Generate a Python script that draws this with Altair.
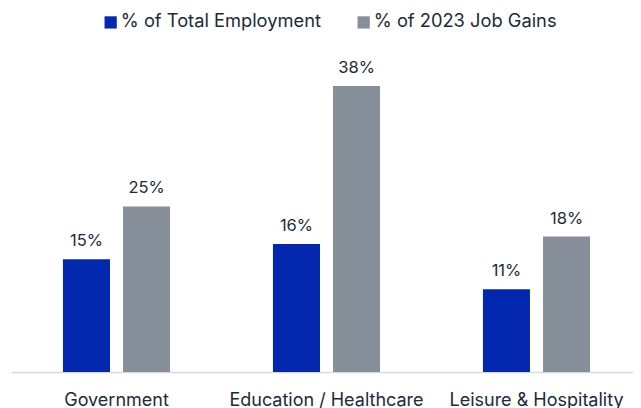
import altair as alt
import pandas as pd

categories = ["Government", "Education / Healthcare", "Leisure & Hospitality"]
series = ["% of Total Employment", "% of 2023 Job Gains"]
total_employment = [15, 17, 11]
job_gains = [22, 38, 18]
total_labels = ["15%", "16%", "11%"]
gains_labels = ["25%", "38%", "18%"]
colors = ["#0327ae", "#87909a"]

rows = []
for i, c in enumerate(categories):
    rows.append({"cat": c, "series": series[0], "value": total_employment[i], "label": total_labels[i]})
    rows.append({"cat": c, "series": series[1], "value": job_gains[i], "label": gains_labels[i]})
df = pd.DataFrame(rows)

FONT = "Inter"
TXT = "#1c2b3a"

x = alt.X("cat:N", sort=categories, title=None,
          scale=alt.Scale(paddingInner=0.49, paddingOuter=0.2248, align=0.545),
          axis=alt.Axis(labelFontSize=18, labelFont=FONT, labelColor=TXT, labelPadding=19.5,
                        labelLimit=400, ticks=False, domainColor="#d9d9d9", domainWidth=1.5,
                        labelAngle=0))
xo = alt.XOffset("series:N", sort=series, scale=alt.Scale(paddingInner=0.217, paddingOuter=0))
y = alt.Y("value:Q", scale=alt.Scale(domain=[0, 40]), axis=None)

bars = alt.Chart(df).mark_bar().encode(
    x=x, xOffset=xo, y=y,
    color=alt.Color("series:N", sort=series, title=None,
                    scale=alt.Scale(domain=series, range=colors),
                    legend=alt.Legend(orient="none", direction="horizontal", legendX=90, legendY=-58,
                                      symbolType="square", symbolSize=150, symbolStrokeWidth=0,
                                      labelFontSize=18.3, labelFont=FONT, labelColor=TXT,
                                      columnPadding=33, labelOffset=1, labelLimit=400)),
)
text = alt.Chart(df).mark_text(baseline="alphabetic", dy=-13, fontSize=16.5, font=FONT, color=TXT).encode(
    x=x, xOffset=xo, y=y, text="label:N"
)

chart = (bars + text).properties(
    width=621.5, height=301,
    autosize=alt.AutoSizeParams(type="none"),
    padding={"left": 3.5, "top": 63, "right": 0, "bottom": 36},
).configure(background="white").configure_view(stroke=None)

chart.save("out.html", embed_options={"renderer": "svg", "actions": False})
